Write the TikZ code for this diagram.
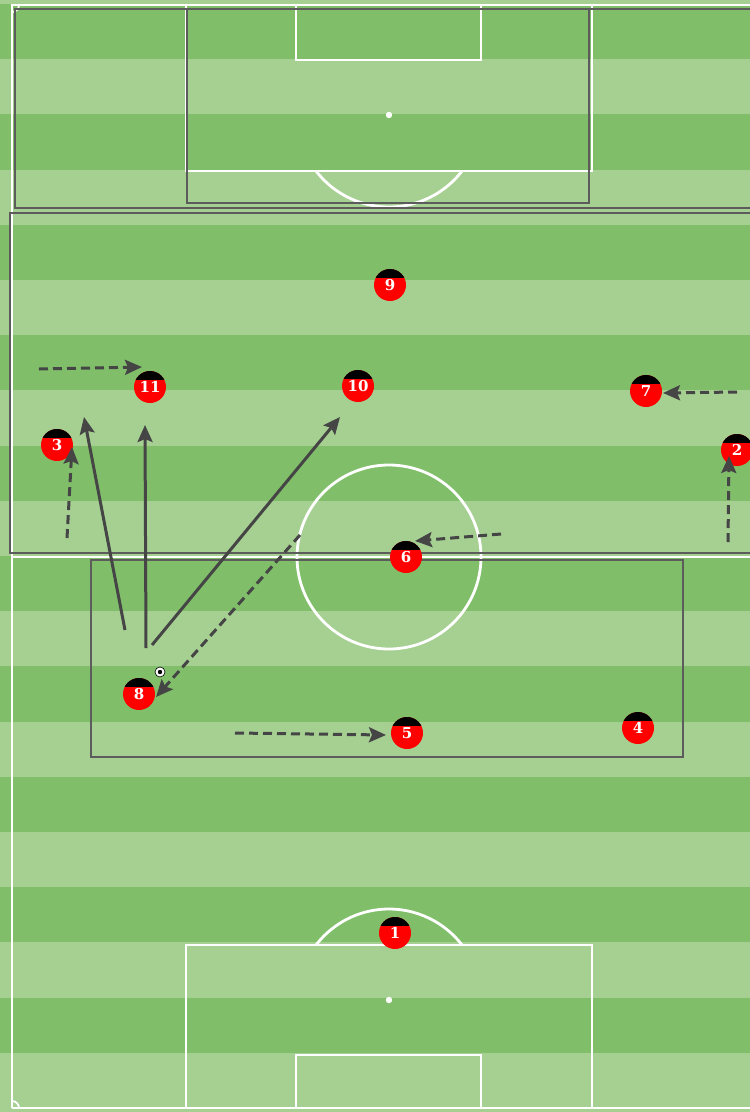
\documentclass[tikz,border=0pt]{standalone}
\usepackage{fontspec}
\usepackage{xcolor}
\usepackage{tikz}
\usetikzlibrary{
  arrows.meta,
  positioning,
  calc
}
\newfontfamily\shirtfont{DejaVu Serif}
\definecolor{grassDark}{HTML}{80BE6A}
\definecolor{grassLight}{HTML}{A6D092}
\definecolor{zoneStroke}{HTML}{5C5C5C}
\definecolor{arrowGrey}{HTML}{454545}
\definecolor{shirtRed}{HTML}{FF0000}
\tikzset{
  pitch line/.style={draw=white, line width=2.8pt},
  zone/.style={draw=zoneStroke, line width=1.6pt},
  player/.style={
    circle, fill=shirtRed,
    minimum size=32pt, inner sep=0pt,
    text=white,
    font=\shirtfont\bfseries\fontsize{15}{15}\selectfont,
    path picture={\fill[black] (path picture bounding box.north west)
      rectangle ([yshift=-9pt]path picture bounding box.north east);}
  },
  ball/.style={
    circle, fill=white, draw=black, line width=0.6pt,
    minimum size=10pt, inner sep=0pt,
    path picture={\fill[black] (path picture bounding box.center) circle (2.2pt);}
  },
  pass/.style={draw=arrowGrey, line width=3pt,
    -{Stealth[length=17pt,width=15pt,inset=3pt]}},
  run/.style={pass, dash pattern=on 9pt off 5pt},
}

\begin{document}
\begin{tikzpicture}[x=1pt, y=-1pt]
    \useasboundingbox (0,0) rectangle (750,1112);
    \clip (0,0) rectangle (750,1112);

    % Grass
    \fill[grassLight] (0,0) rectangle (750,1112);
    \foreach \k in {0,2,...,18}
      \fill[grassDark] (0,{4+55.2*\k}) rectangle (750,{59.2+55.2*\k});

    % Pitch
    \draw[pitch line] (12,1108) -- (12,5) -- (780,5);
    \draw[pitch line] (12,1108) -- (780,1108);
    \draw[pitch line] (12,557) -- (780,557);
    \draw[pitch line] (389,557) circle (92);
    \draw[pitch line] (186,5) rectangle (592,171);
    \draw[pitch line] (296,5) rectangle (481,60);
    \draw[pitch line] (462,171) arc[start angle=37.5, end angle=142.5, radius=92];
    \draw[pitch line] (186,1108) rectangle (592,945);
    \draw[pitch line] (296,1108) rectangle (481,1055);
    \draw[pitch line] (462,945) arc[start angle=-37.5, end angle=-142.5, radius=92];
    \fill[white] (389,115) circle (3.2) (389,1000) circle (3.2);
    \draw[pitch line, line width=1.8pt] (19,5) arc[start angle=0, end angle=90, radius=7];
    \draw[pitch line, line width=1.8pt] (12,1101) arc[start angle=-90, end angle=0, radius=7];

    % Zones
    \draw[zone] (15,9) rectangle (780,208);
    \draw[zone] (187,9) rectangle (589,203);
    \draw[zone] (10,213) rectangle (780,553);
    \draw[zone] (91,560) rectangle (683,757);

    % Players
    \node[player] (p1) at (395,933) {1};
    \node[player] (p2) at (737,450) {2};
    \node[player] (p3) at (57,445) {3};
    \node[player] (p4) at (638,728) {4};
    \node[player] (p5) at (407,733) {5};
    \node[player] (p6) at (406,557) {6};
    \node[player] (p7) at (646,391) {7};
    \node[player] (p8) at (139,694) {8};
    \node[player] (p9) at (390,285) {9};
    \node[player] (p10) at (358,386) {10};
    \node[player] (p11) at (150,387) {11};
    \node[ball] (ball) at (160,672) {};

    % Arrow ends
    \coordinate (pass1from) at (125,630);
    \coordinate (pass1to) at (84,417);
    \coordinate (pass2from) at (146,648);
    \coordinate (pass2to) at (145,425);
    \coordinate (pass3from) at (152,645);
    \coordinate (pass3to) at (340,417);
    \coordinate (run8from) at (300,535);
    \coordinate (run8to) at (156,697);
    \coordinate (run11from) at (39,369);
    \coordinate (run11to) at (142,367);
    \coordinate (run3from) at (67,538);
    \coordinate (run3to) at (72,447);
    \coordinate (run7from) at (737,392);
    \coordinate (run7to) at (663,393);
    \coordinate (run2from) at (728,542);
    \coordinate (run2to) at (729,456);
    \coordinate (run6from) at (501,534);
    \coordinate (run6to) at (415,541);
    \coordinate (run5from) at (235,733);
    \coordinate (run5to) at (386,735);

    % Arrows
    \draw[pass] (pass1from) -- (pass1to);
    \draw[pass] (pass2from) -- (pass2to);
    \draw[pass] (pass3from) -- (pass3to);
    \draw[run] (run8from) -- (run8to);
    \draw[run] (run11from) -- (run11to);
    \draw[run] (run3from) -- (run3to);
    \draw[run] (run7from) -- (run7to);
    \draw[run] (run2from) -- (run2to);
    \draw[run] (run6from) -- (run6to);
    \draw[run] (run5from) -- (run5to);
  \end{tikzpicture}
\end{document}
